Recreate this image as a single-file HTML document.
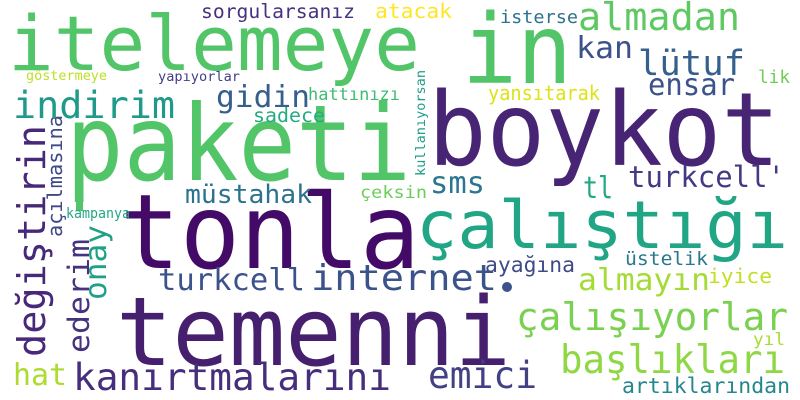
<!DOCTYPE html>
<html><head><meta charset="utf-8"><style>
html,body{margin:0;padding:0;background:#fff}
svg{display:block}
text{font-family:"DejaVu Sans Mono","Liberation Mono",monospace}
</style></head><body>
<svg id="cloud" width="800" height="400" viewBox="0 0 800 400" xmlns="http://www.w3.org/2000/svg">
<rect width="800" height="400" fill="#fff"/>
<circle cx="507" cy="287" r="5" fill="#3b528b"/>
<rect x="76" y="199" width="7" height="12" fill="#52c569"/>
</svg>
<script>
const words=["itelemeye","in","paketi","boykot","tonla","temenni","çalıştığı","çalışıyorlar","başlıkları","emici","artıklarından","yıl","almayın","iyice","üstelik","ayağına","internet","turkcell","kanırtmalarını","hat","değiştirin","ederim","onay","açılmasına","kullanıyorsan","kampanya","çeksin","müstahak","sms","tl","turkcell'","yansıtarak","lik","ensar","lütuf","kan","almadan","isterse","atacak","sorgularsanız","göstermeye","yapıyorlar","indirim","gidin","hattınızı","sadece"];
const sizes=[76,96,105,102,103,95,66,38,39,37,21,17,30,20,19,21,36,30,37,30,38,29,30,20,13.5,14,17,26,30,30,29,20,18,30,35,30,38,18,20,19.5,13,13,37,30,17,19.5];
const xs=[8,462,66,428,120,116,416,516,560,428,622,753,578,708,625,485,311,158,73,13,45,89,106,62,425,66,360,185,430,583,628,488,758,648,638,576,578,500,375,201,26,158,13,216,308,253];
const ys=[70,83,180,165,268,365,248,330,373,388,393,345,290,283,265,272,290,290,390,385,357,353,300,237,176,218,198,203,193,198,187,100,83,95,75,58,30,23,18,18,80,81,118,107,100,122];
const lens=[412,110,345,352,300,395,372,272,225,109,168,32,132,64,83,90,186,147,318,54,232,114,75,122,106,64,67,127,55,30,157,112,32,87,107,57,162,78,77,154,81,82,162,94,92,72];
const rot=[0,0,0,0,0,0,0,0,0,0,0,0,0,0,0,0,0,0,0,0,1,1,1,1,1,0,0,0,0,0,0,0,0,0,0,0,0,0,0,0,0,0,0,0,0,0];
const colors=["#52c569","#52c569","#52c569","#482475","#440a68","#46206f","#21a685","#7ad151","#8fd744","#424186","#24878e","#a8db34","#a5db36","#c2df23","#2a788e","#3e4a89","#3b528b","#3b528b","#472e7c","#addc30","#482878","#46337f","#1fa187","#3f4889","#1f9e89","#22a884","#6ccd5a","#2c728e","#2a768e","#22a884","#443a83","#dde318","#6ece58","#3b528b","#355f8d","#3b528b","#5ec962","#2c728e","#fde725","#46327e","#bddf26","#433e85","#1f9a8a","#355f8d","#3fbc73","#25ab82"];
const svg=document.getElementById('cloud');
const NS="http://www.w3.org/2000/svg";
words.forEach((w,i)=>{
  const t=document.createElementNS(NS,'text');
  
  
  t.setAttribute('font-size',sizes[i]);
  t.setAttribute('fill',colors[i]);
  t.setAttribute('textLength',lens[i]);
  t.setAttribute('lengthAdjust','spacingAndGlyphs');
  if(rot[i]){
    t.setAttribute('x',0);t.setAttribute('y',0);
    t.setAttribute('transform','translate('+xs[i]+','+ys[i]+') rotate(-90)');
  }else{
    t.setAttribute('x',xs[i]);t.setAttribute('y',ys[i]);
  }
  t.textContent=w;
  svg.appendChild(t);
});
</script>
</body></html>
